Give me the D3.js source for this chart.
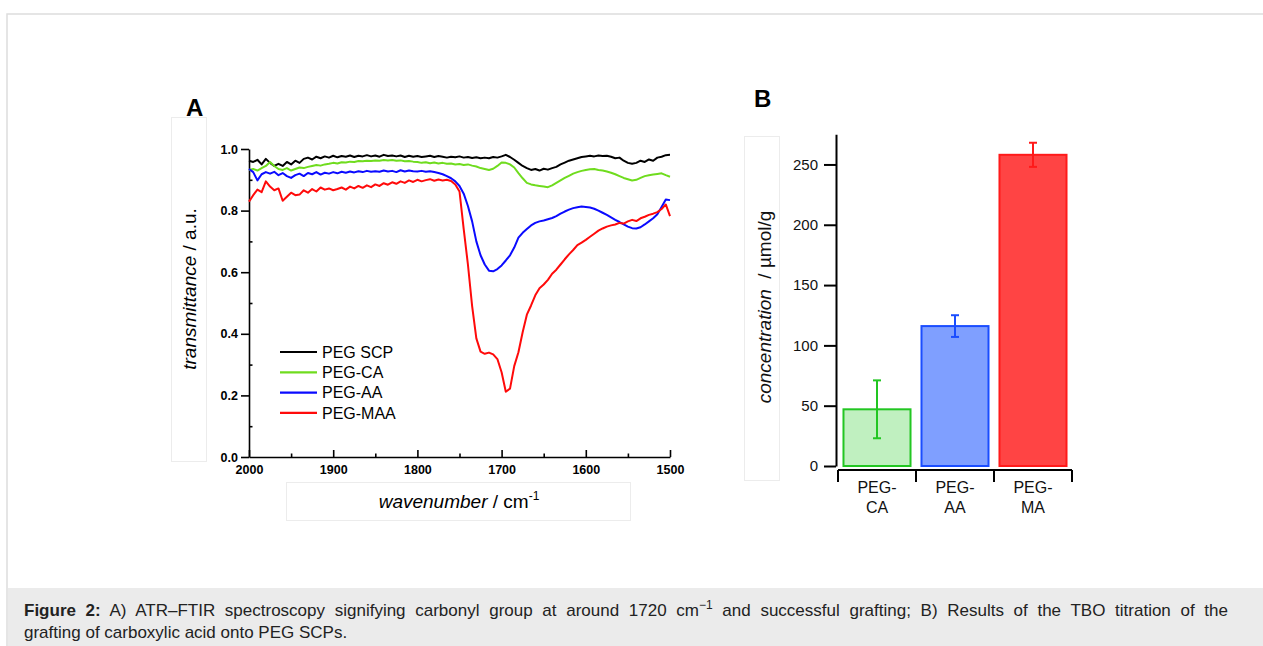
<!DOCTYPE html>
<html>
<head>
<meta charset="utf-8">
<script src="https://cdn.jsdelivr.net/npm/d3@7"></script>
<style>
body { margin: 0; background: #fff; }
text { font-family: "Liberation Sans", Arial, sans-serif; }
</style>
</head>
<body>
<div id="container"></div>
<script>
// ---- panel A data: transmittance, one value every 5 cm-1 (2000 -> 1500)
var wavenumbers = d3.range(2000, 1499, -5);

var pegScp = [
	0.962,0.958,0.965,0.950,0.968,0.955,0.945,0.952,0.945,0.958,
	0.950,0.962,0.955,0.968,0.972,0.966,0.975,0.970,0.976,0.972,
	0.978,0.973,0.977,0.975,0.979,0.974,0.978,0.976,0.980,0.976,
	0.979,0.975,0.981,0.977,0.979,0.976,0.979,0.974,0.978,0.975,
	0.977,0.974,0.976,0.978,0.974,0.977,0.975,0.972,0.975,0.973,
	0.976,0.972,0.974,0.971,0.973,0.970,0.972,0.970,0.974,0.972,
	0.976,0.981,0.974,0.965,0.955,0.945,0.938,0.932,0.935,0.930,
	0.936,0.933,0.938,0.942,0.950,0.956,0.962,0.966,0.970,0.974,
	0.976,0.978,0.976,0.979,0.977,0.978,0.975,0.970,0.972,0.962,
	0.955,0.952,0.955,0.962,0.958,0.966,0.962,0.972,0.975,0.980,
	0.981];

var pegCa = [
	0.932,0.935,0.930,0.938,0.945,0.958,0.945,0.935,0.932,0.938,
	0.930,0.935,0.940,0.938,0.942,0.945,0.948,0.946,0.950,0.952,
	0.955,0.953,0.957,0.956,0.959,0.958,0.961,0.960,0.962,0.961,
	0.963,0.962,0.964,0.963,0.964,0.962,0.963,0.960,0.961,0.959,
	0.958,0.955,0.957,0.954,0.956,0.953,0.955,0.952,0.953,0.950,
	0.951,0.948,0.950,0.946,0.943,0.938,0.935,0.932,0.936,0.945,
	0.956,0.955,0.950,0.940,0.922,0.905,0.890,0.885,0.882,0.880,
	0.878,0.876,0.882,0.890,0.898,0.906,0.913,0.920,0.925,0.929,
	0.932,0.934,0.935,0.932,0.930,0.927,0.923,0.918,0.912,0.906,
	0.902,0.898,0.900,0.906,0.912,0.915,0.917,0.919,0.921,0.915,
	0.910];

var pegAa = [
	0.935,0.925,0.898,0.918,0.925,0.920,0.926,0.915,0.922,0.912,
	0.906,0.915,0.920,0.912,0.922,0.918,0.925,0.917,0.923,0.920,
	0.925,0.921,0.926,0.923,0.927,0.924,0.928,0.925,0.929,0.926,
	0.928,0.926,0.930,0.927,0.929,0.925,0.931,0.927,0.930,0.928,
	0.927,0.929,0.926,0.928,0.925,0.922,0.918,0.912,0.905,0.895,
	0.880,0.855,0.815,0.765,0.700,0.655,0.625,0.605,0.603,0.610,
	0.622,0.638,0.655,0.680,0.712,0.728,0.740,0.752,0.760,0.765,
	0.768,0.772,0.776,0.782,0.790,0.797,0.803,0.808,0.811,0.813,
	0.812,0.810,0.806,0.800,0.793,0.786,0.778,0.770,0.763,0.755,
	0.748,0.743,0.742,0.746,0.755,0.765,0.775,0.788,0.812,0.836,
	0.834];

var pegMaa = [
	0.829,0.850,0.868,0.860,0.895,0.878,0.866,0.872,0.832,0.845,
	0.858,0.850,0.852,0.866,0.858,0.870,0.862,0.875,0.868,0.872,
	0.866,0.870,0.875,0.868,0.878,0.872,0.880,0.874,0.882,0.876,
	0.885,0.880,0.889,0.884,0.892,0.887,0.895,0.890,0.898,0.893,
	0.900,0.895,0.899,0.902,0.897,0.901,0.898,0.900,0.896,0.885,
	0.862,0.740,0.625,0.490,0.385,0.342,0.335,0.339,0.333,0.318,
	0.275,0.212,0.222,0.295,0.340,0.405,0.462,0.492,0.525,0.548,
	0.560,0.575,0.595,0.608,0.625,0.642,0.658,0.672,0.688,0.696,
	0.705,0.715,0.725,0.735,0.742,0.748,0.752,0.755,0.760,0.758,
	0.765,0.770,0.766,0.775,0.780,0.786,0.790,0.795,0.805,0.820,
	0.782];

var seriesNames = ["PEG SCP", "PEG-CA", "PEG-AA", "PEG-MAA"];
var seriesColors = ["#000000", "#6fdc1e", "#0a0aff", "#ff0a0a"];

var specTicksX = [2000, 1900, 1800, 1700, 1600, 1500];
var specMinorX = [1950, 1850, 1750, 1650, 1550];
var specTicksY = [0, 0.2, 0.4, 0.6, 0.8, 1.0];
var specMinorY = [0.1, 0.3, 0.5, 0.7, 0.9];

// ---- panel B data: TBO titration
var barCategories = ["PEG-CA", "PEG-AA", "PEG-MA"];
var barValues = [47, 116, 258];
var barErrors = [24, 9, 10];
var barFills = ["#c0f0c0", "#7f9fff", "#ff4444"];
var barStrokes = ["#22c622", "#1a4dff", "#ff1a1a"];
var barTicksY = [0, 50, 100, 150, 200, 250];

var svg = d3.select("#container").append("svg")
	.attr("width", 1263)
	.attr("height", 646);

// page frame and caption strip
svg.append("path")
	.attr("d", "M7,646V14H1263")
	.attr("fill", "none")
	.attr("stroke", "#dddddd")
	.attr("stroke-width", 1.5);

svg.append("rect")
	.attr("x", 8).attr("y", 588)
	.attr("width", 1255).attr("height", 58)
	.attr("fill", "#ebebeb");

var cap1 = svg.append("text").attr("x", 24).attr("y", 616)
	.style("font-size", "17px").attr("fill", "#222");
cap1.append("tspan").style("font-weight", "bold").text("Figure 2:");
cap1.append("tspan").text(" A) ATR\u2013FTIR spectroscopy signifying carbonyl group at around 1720 cm");
cap1.append("tspan").attr("dy", -7).style("font-size", "12px").text("\u22121");
cap1.append("tspan").attr("dy", 7).text(" and successful grafting; B) Results of the TBO titration of the");

// first caption line is justified: spread the spare width over the spaces
var capWidth = 1228 - 24;
var natural = cap1.node().getComputedTextLength();
var nSpaces = cap1.text().split(" ").length - 1;
cap1.style("word-spacing", Math.max(0, (capWidth - natural) / nSpaces) + "px");

svg.append("text").attr("x", 24).attr("y", 638)
	.style("font-size", "17px").attr("fill", "#222")
	.text("grafting of carboxylic acid onto PEG SCPs.");

// faint boxes left behind the axis titles in the original figure
[[171.5, 117.5, 35, 344], [286.5, 482.5, 344, 38], [744.5, 136.5, 35, 344]].forEach(function(b) {
	svg.append("rect")
		.attr("x", b[0]).attr("y", b[1])
		.attr("width", b[2]).attr("height", b[3])
		.attr("fill", "none")
		.attr("stroke", "#ececec");
});

// =================== panel A ===================
var xA = d3.scaleLinear().domain([2000, 1500]).range([249, 670]);
var yA = d3.scaleLinear().domain([0, 1]).range([457, 149]);

svg.append("text")
	.attr("x", 186).attr("y", 116)
	.style("font-size", "24px").style("font-weight", "bold")
	.text("A");

var gxA = svg.append("g")
	.attr("class", "x axis")
	.attr("transform", "translate(0,457)")
	.call(d3.axisBottom(xA).tickValues(specTicksX).tickSizeInner(-7).tickSizeOuter(0)
		.tickPadding(8).tickFormat(d3.format("d")));
gxA.selectAll("text").style("font-size", "12.5px").style("font-weight", "bold")
	.style("font-family", "'Liberation Sans', Arial, sans-serif");

svg.append("g")
	.attr("transform", "translate(0,457)")
	.call(d3.axisBottom(xA).tickValues(specMinorX).tickSizeInner(-3.5).tickSizeOuter(0).tickFormat(""))
	.select(".domain").remove();

var gyA = svg.append("g")
	.attr("class", "y axis")
	.attr("transform", "translate(249,0)")
	.call(d3.axisLeft(yA).tickValues(specTicksY).tickSizeInner(8).tickSizeOuter(0)
		.tickPadding(3).tickFormat(d3.format(".1f")));
gyA.selectAll("text").style("font-size", "12.5px").style("font-weight", "bold")
	.style("font-family", "'Liberation Sans', Arial, sans-serif");

svg.append("g")
	.attr("transform", "translate(249,0)")
	.call(d3.axisLeft(yA).tickValues(specMinorY).tickSizeInner(-3.5).tickSizeOuter(0).tickFormat(""))
	.select(".domain").remove();

svg.selectAll(".domain, .tick line").attr("stroke-width", 1.6);

// spectra
var spectra = [pegScp, pegCa, pegAa, pegMaa];
var line = d3.line()
	.x(function(d, i) { return xA(wavenumbers[i]); })
	.y(function(d) { return yA(d); });

svg.selectAll(".spectrum")
	.data(spectra).enter()
	.append("path")
		.attr("class", "spectrum")
		.attr("d", line)
		.attr("fill", "none")
		.attr("stroke", function(d, i) { return seriesColors[i]; })
		.attr("stroke-width", 2)
		.attr("stroke-linejoin", "round");

// legend
var legend = svg.selectAll(".legend")
	.data(seriesNames).enter()
	.append("g")
		.attr("class", "legend")
		.attr("transform", function(d, i) { return "translate(280," + (352 + i * 20.3) + ")"; });

legend.append("line")
	.attr("x1", 0).attr("x2", 37)
	.attr("stroke", function(d, i) { return seriesColors[i]; })
	.attr("stroke-width", 2.2);

legend.append("text")
	.attr("x", 42)
	.attr("dy", ".36em")
	.style("font-size", "16px")
	.text(function(d) { return d; });

// axis titles
var yTitleA = svg.append("text")
	.attr("transform", "translate(196,289) rotate(-90)")
	.attr("text-anchor", "middle")
	.style("font-size", "19px");
yTitleA.append("tspan").style("font-style", "italic").text("transmittance");
yTitleA.append("tspan").text(" / a.u.");

var xTitleA = svg.append("text")
	.attr("x", 459).attr("y", 508)
	.attr("text-anchor", "middle")
	.style("font-size", "19px");
xTitleA.append("tspan").style("font-style", "italic").text("wavenumber");
xTitleA.append("tspan").text(" / cm");
xTitleA.append("tspan").attr("dy", -8).style("font-size", "12px").text("-1");

// =================== panel B ===================
var xB = d3.scaleBand().domain(barCategories).range([838, 1072])
	.paddingInner(0.115).paddingOuter(0.0575);
var yB = d3.scaleLinear().domain([0, 275]).range([466, 134.3]);

svg.append("text")
	.attr("x", 754).attr("y", 107)
	.style("font-size", "24px").style("font-weight", "bold")
	.text("B");

var gyB = svg.append("g")
	.attr("transform", "translate(836,0)")
	.call(d3.axisLeft(yB).tickValues(barTicksY).tickSizeInner(12).tickSizeOuter(0).tickPadding(6));
gyB.selectAll("text").style("font-size", "15px").attr("fill", "#111")
	.style("font-family", "'Liberation Sans', Arial, sans-serif");
gyB.selectAll(".domain, .tick line").attr("stroke-width", 2);

// category axis: separator ticks between bars, labels on two lines
var bounds = d3.range(barCategories.length + 1).map(function(k) { return xB.range()[0] + k * xB.step(); });
var gxB = svg.append("g").attr("transform", "translate(0,470)");
gxB.append("line")
	.attr("x1", bounds[0]).attr("x2", bounds[bounds.length - 1])
	.attr("stroke", "#000").attr("stroke-width", 2);
gxB.selectAll(".sep")
	.data(bounds).enter()
	.append("line")
		.attr("class", "sep")
		.attr("x1", function(d) { return d; }).attr("x2", function(d) { return d; })
		.attr("y1", 0).attr("y2", 12)
		.attr("stroke", "#000").attr("stroke-width", 2);

var catLabels = gxB.selectAll(".cat")
	.data(barCategories).enter()
	.append("text")
		.attr("class", "cat")
		.attr("text-anchor", "middle")
		.attr("y", 23)
		.style("font-size", "16px")
		.attr("fill", "#111");
catLabels.append("tspan")
	.attr("x", function(d) { return xB(d) + xB.bandwidth() / 2; })
	.text(function(d) { return d.split("-")[0] + "-"; });
catLabels.append("tspan")
	.attr("x", function(d) { return xB(d) + xB.bandwidth() / 2; })
	.attr("dy", 19.5)
	.text(function(d) { return d.split("-")[1]; });

// bars
svg.selectAll(".bar")
	.data(barValues).enter()
	.append("rect")
		.attr("class", "bar")
		.attr("x", function(d, i) { return xB(barCategories[i]) + 1; })
		.attr("width", xB.bandwidth() - 2)
		.attr("y", function(d) { return yB(d); })
		.attr("height", function(d) { return yB(0) - yB(d); })
		.attr("fill", function(d, i) { return barFills[i]; })
		.attr("stroke", function(d, i) { return barStrokes[i]; })
		.attr("stroke-width", 2);

// error bars
var err = svg.selectAll(".err")
	.data(barValues).enter()
	.append("g")
		.attr("class", "err")
		.attr("stroke", function(d, i) { return barStrokes[i]; })
		.attr("stroke-width", 2);

err.append("line")
	.attr("x1", function(d, i) { return xB(barCategories[i]) + xB.bandwidth() / 2; })
	.attr("x2", function(d, i) { return xB(barCategories[i]) + xB.bandwidth() / 2; })
	.attr("y1", function(d, i) { return yB(d - barErrors[i]); })
	.attr("y2", function(d, i) { return yB(d + barErrors[i]); });

[-1, 1].forEach(function(s) {
	err.append("line")
		.attr("x1", function(d, i) { return xB(barCategories[i]) + xB.bandwidth() / 2 - 4; })
		.attr("x2", function(d, i) { return xB(barCategories[i]) + xB.bandwidth() / 2 + 4; })
		.attr("y1", function(d, i) { return yB(d + s * barErrors[i]); })
		.attr("y2", function(d, i) { return yB(d + s * barErrors[i]); });
});

var yTitleB = svg.append("text")
	.attr("transform", "translate(771,307) rotate(-90)")
	.attr("text-anchor", "middle")
	.style("font-size", "19px")
	.attr("fill", "#111");
yTitleB.append("tspan").style("font-style", "italic").text("concentration");
yTitleB.append("tspan").text("\u00a0 / \u00b5mol/g");
</script>
</body>
</html>
